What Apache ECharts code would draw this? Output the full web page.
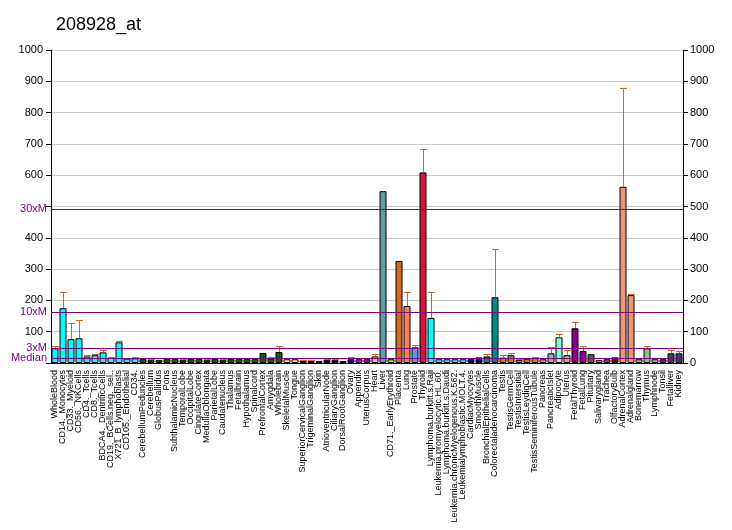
<!DOCTYPE html>
<html>
<head>
<meta charset="utf-8">
<script src="https://cdn.jsdelivr.net/npm/echarts@6/dist/echarts.min.js"></script>
<style>html,body{margin:0;padding:0;background:#fff}#c{width:732px;height:530px}</style>
</head>
<body>
<div id="c"></div>
<script>
const categories = ["WholeBlood","CD14._Monocytes","CD33._Myeloid","CD56._NKCells","CD4._Tcells","CD8._Tcells","BDCA4._DentriticCells","CD19._BCells.neg._sel..","X721_B_lymphoblasts","CD105._Endothelial","CD34.","CerebellumPeduncles","Cerebellum","GlobusPallidus","Pons","SubthalamicNucleus","TemporalLobe","OccipitalLobe","CingulateCortex","MedullaOblongata","ParietalLobe","Caudatenucleus","Thalamus","Fetalbrain","Hypothalamus","Spinalcord","PrefrontalCortex","Amygdala","Wholebrain","SkeletalMuscle","Tongue","SuperiorCervicalGanglion","TrigeminalGanglion","Skin","AtrioventricularNode","CiliaryGanglion","DorsalRootGanglion","Ovary","Appendix","UterusCorpus","Heart","Liver","CD71._EarlyErythroid","Placenta","Lung","Prostate","Thyroid","Lymphoma.burkitt.s.Raji","Leukemia.promyelocytic.HL.60.","Lymphoma.burkitt.s.Daudi","Leukemia.chronicMyelogenous.K.562.","Leukemialymphoblastic.MOLT.4.","CardiacMyocytes","SmoothMuscle","BronchialEpithelialCells","Colorectaladenocarcinoma","Testis","TestisGermCell","TestisIntersitial","TestisLeydigCell","TestisSeminiferousTubule","Pancreas","PancreaticIslet","Adipocyte","Uterus","FetalThyroid","FetalLung","Pituitary","Salivarygland","Trachea","OlfactoryBulb","AdrenalCortex","Adrenalgland","Bonemarrow","Thymus","Lymphnode","Tonsil","Fetalliver","Kidney"];

const values = [47,175,76,79,21,25,34,17,66,14,15,13,9,9,13,13,9,13,13,9,13,9,13,13,13,13,32,14,35,12,12,7,7,6,10,10,6,12,12,12,21,549,12,326,182,50,609,144,12,12,12,12,13,18,21,210,17,25,10,14,16,12,31,82,25,111,38,28,9,12,18,563,217,12,47,12,12,31,31];

const errTops = [53,226,127,136,25,28,41,20,69,null,18,null,12,null,null,null,13,null,null,13,null,13,null,null,null,null,null,18,53,null,null,9,9,null,12,12,null,18,null,null,28,null,null,null,226,57,683,226,null,null,null,null,null,null,28,365,25,32,13,null,19,null,50,92,41,130,53,null,null,null,null,879,219,null,53,null,null,41,37];

const barColors = ["#00FFFF","#00FFFF","#00FFFF","#00FFFF","#00FFFF","#00FFFF","#00FFFF","#00FFFF","#00FFFF","#00FFFF","#00FFFF",
"#006400","#006400","#006400","#006400","#006400","#006400","#006400","#006400","#006400","#006400","#006400","#006400","#006400","#006400","#006400","#006400","#006400","#006400",
"#FFE4C4","#FFE4C4","#000000","#000000","#000000","#000000","#000000","#000000",
"#0000FF","#8A2BE2","#A52A2A","#DEB887","#5F9EA0","#7FFF00","#D2691E","#FF7F50","#6495ED","#DC143C",
"#00FFFF","#00FFFF","#00FFFF","#00FFFF","#00FFFF",
"#00008B","#00008B","#008B8B","#008B8B",
"#B8860B","#B8860B","#B8860B","#B8860B","#B8860B",
"#A9A9A9","#A9A9A9","#7FFFD4","#BDB76B","#8B008B","#8B008B","#556B2F","#FF8C00","#9932CC","#8B0000","#E9967A","#E9967A","#8FBC8F","#8FBC8F","#8FBC8F","#483D8B","#2F4F4F","#2F4F4F"];

const refLabels = ["Median","3xM","10xM","30xM"];
const refValues = [15,47,162,491];

const hiddenLeft = [0,500];

const FONT = "Liberation Sans, Arial, sans-serif";
const ERR = "#CC6633";
const chart = echarts.init(document.getElementById('c'), null, {renderer:'canvas'});

const barData = values.map((v,i)=>({value:v, itemStyle:{color:barColors[i]}}));
const errData = values.map((v,i)=> errTops[i]==null ? null : [i, v, errTops[i]]).filter(d=>d);

chart.setOption({
  animation:false,
  title:{text:"208928_at", left:51, top:11, textStyle:{fontFamily:FONT, fontSize:18, fontWeight:'normal', color:'#000'}},
  grid:{left:51, right:49, top:50, bottom:167},
  xAxis:{type:'category', data:categories,
    axisLine:{lineStyle:{color:'#000'}},
    axisTick:{alignWithLabel:true, interval:0, length:4, lineStyle:{color:'#000'}},
    axisLabel:{rotate:90, interval:0, fontSize:9, fontFamily:FONT, color:'#000', margin:7}},
  yAxis:[
    {type:'value', min:0, max:1000, interval:100, position:'left',
     axisLine:{show:true, lineStyle:{color:'#000'}},
     axisTick:{show:true, length:5, lineStyle:{color:'#000'}},
     axisLabel:{fontSize:11, fontFamily:FONT, color:'#000', margin:8,
       formatter:v=> hiddenLeft.indexOf(v)>=0 ? '' : String(v)},
     splitLine:{show:true, lineStyle:{color:'#C8C8C8', width:1}}},
    {type:'value', min:0, max:1000, interval:100, position:'right',
     axisLine:{show:true, lineStyle:{color:'#000'}},
     axisTick:{show:true, length:5, lineStyle:{color:'#000'}},
     axisLabel:{fontSize:11, fontFamily:FONT, color:'#000', margin:7, formatter:v=>String(v)},
     splitLine:{show:false}}
  ],
  series:[
    {type:'custom', z:3, data:errData, silent:true,
     renderItem:function(params, api){
       const b = api.coord([api.value(0), api.value(1)]);
       const t = api.coord([api.value(0), api.value(2)]);
       const x = Math.round(b[0]);
       const yt = Math.round(t[1]);
       const yb = Math.round(b[1]);
       return {type:'group', children:[
         {type:'rect', shape:{x:x, y:yt, width:1, height:Math.max(1, yb-yt)}, style:{fill:ERR, stroke:null}},
         {type:'rect', shape:{x:x-3, y:yt, width:7, height:1}, style:{fill:ERR, stroke:null}}
       ]};
     }},
    {type:'bar', z:2, data:barData, barWidth:7,
     itemStyle:{borderColor:'#000', borderWidth:1},
     markLine:{silent:true, symbol:'none', z:5,
       lineStyle:{color:'#800080', width:1, type:'solid'},
       label:{position:'start', distance:4, color:'#800080', fontSize:11, fontFamily:FONT, formatter:p=>p.name},
       data: refValues.map((v,i)=>({name:refLabels[i], yAxis:v}))}}
  ]
});
</script>
</body>
</html>
